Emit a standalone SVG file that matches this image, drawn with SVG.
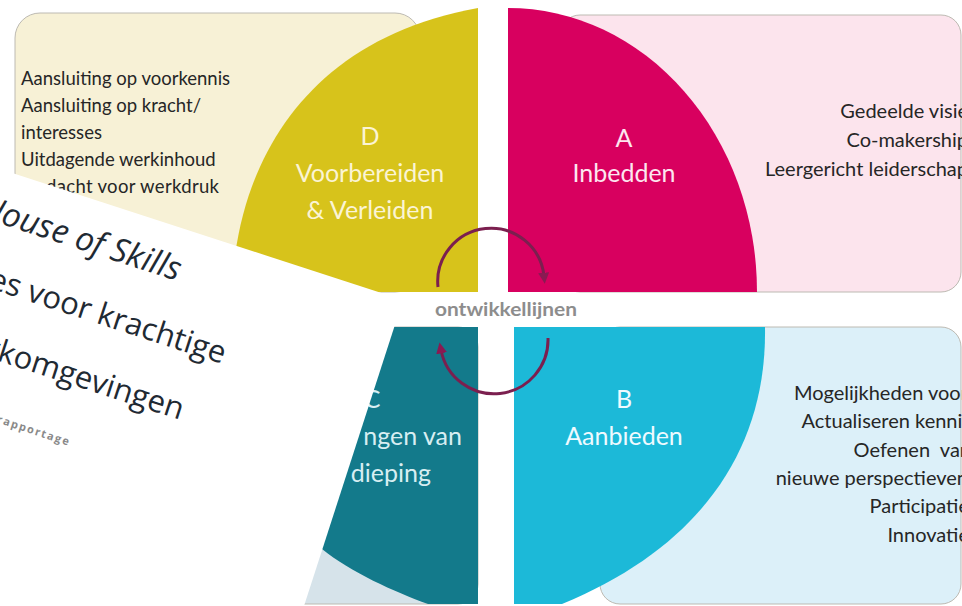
<svg xmlns="http://www.w3.org/2000/svg" width="962" height="606" viewBox="0 0 962 606">
<defs>
<style>
.list{font-family:Lato,"Noto Sans",sans-serif;font-size:18.5px;fill:#262626}
.rlist{font-family:Lato,"Noto Sans",sans-serif;font-size:20px;fill:#262626;text-anchor:end}
.lbl{font-family:Lato,"Noto Sans",sans-serif;font-size:25px;text-anchor:middle}
.bg{stroke:#bdbab2;stroke-width:1}
.arc{fill:none;stroke:#7b1f4f;stroke-width:3}
.ov{font-family:"Open Sans","Noto Sans",sans-serif;fill:#1f2a33;text-anchor:end}
</style>
<marker id="ah" viewBox="0 0 10 10" refX="3" refY="5" markerWidth="11" markerHeight="11" markerUnits="userSpaceOnUse" orient="auto"><path d="M0,0 L10,5 L0,10 Z" fill="#8a1a52"/></marker>
</defs>
<rect width="962" height="606" fill="#ffffff"/>

<g id="quadrant-d">
<rect class="bg" x="15" y="13" width="405" height="279" rx="25" fill="#f7f1d6"/>
<path d="M478,8 V292 H232 C236,170 300,40 478,8 Z" fill="#d7c31b"/>
<text class="list" x="21" y="85">Aansluiting op voorkennis</text>
<text class="list" x="21" y="112">Aansluiting op kracht/</text>
<text class="list" x="21" y="139">interesses</text>
<text class="list" x="21" y="166">Uitdagende werkinhoud</text>
<text class="list" x="46" y="193" textLength="173">dacht voor werkdruk</text>
<text class="lbl" x="370" y="145" fill="#fbf4d4">D</text>
<text class="lbl" x="370" y="182" fill="#fbf4d4">Voorbereiden</text>
<text class="lbl" x="370" y="219" fill="#fbf4d4">&amp; Verleiden</text>
</g>

<g id="quadrant-a">
<rect class="bg" x="560" y="15" width="401" height="277" rx="20" fill="#fce4ed"/>
<path d="M508,8 V292 H757 A249,284 0 0 0 508,8 Z" fill="#d8005f"/>
<text class="lbl" x="624" y="147" fill="#fde6ef">A</text>
<text class="lbl" x="624" y="182" fill="#fde6ef">Inbedden</text>
<text class="rlist" x="968" y="118">Gedeelde visie</text>
<text class="rlist" x="968" y="147">Co-makership</text>
<text class="rlist" x="968" y="176">Leergericht leiderschap</text>
</g>

<g id="quadrant-b">
<rect class="bg" x="600" y="327" width="361" height="277" rx="20" fill="#dcf0f9"/>
<path d="M514,327 H765 C767,445 705,545 562,604 H514 Z" fill="#1cb9d8"/>
<text class="lbl" x="624" y="408" fill="#effaff">B</text>
<text class="lbl" x="624" y="445" fill="#effaff">Aanbieden</text>
<text class="rlist" x="968" y="400">Mogelijkheden voor</text>
<text class="rlist" x="971" y="428">Actualiseren kennis</text>
<text class="rlist" x="971" y="457" style="white-space:pre">Oefenen  van</text>
<text class="rlist" x="968" y="485">nieuwe perspectieven</text>
<text class="rlist" x="969" y="513">Participatie</text>
<text class="rlist" x="969" y="542">Innovatie</text>
</g>

<g id="quadrant-c">
<rect class="bg" x="-30" y="327" width="508" height="277" rx="20" fill="#d6e3ea"/>
<path d="M478,327 V604 H428 C395,592 350,572 322,549 C280,515 235,440 225,327 Z" fill="#137a8b"/>
<text class="lbl" x="372" y="408" fill="#d8eef2">C</text>
<text class="lbl" x="462" y="445" fill="#d8eef2" style="text-anchor:end">ngen van</text>
<text class="lbl" x="431" y="482" fill="#d8eef2" style="text-anchor:end">dieping</text>
</g>

<g id="center-label">
<text x="506" y="316" font-family="Lato,'Noto Sans',sans-serif" font-weight="bold" font-size="19" fill="#8d8d8d" text-anchor="middle" textLength="142" lengthAdjust="spacingAndGlyphs">ontwikkellijnen</text>
</g>

<g id="connectors">
<path class="arc" d="M438,287 A53,53 0 0 1 544,276" marker-end="url(#ah)"/>
<path class="arc" d="M548,338 A54,54 0 0 1 441,350" marker-end="url(#ah)"/>
</g>

<g id="overlay-sheet">
<polygon points="0,169 403,300 304,606 0,606" fill="#ffffff"/>
<text class="ov" font-style="italic" font-size="33" x="177" y="281" transform="rotate(18 177 281)">House of Skills</text>
<text class="ov" font-size="31" x="222" y="364" transform="rotate(18 222 364)">es voor krachtige</text>
<text class="ov" font-size="31" x="180" y="420" transform="rotate(18 180 420)">rkomgevingen</text>
<text class="ov" font-size="11" font-weight="bold" letter-spacing="1.5" x="69" y="446" transform="rotate(18 69 446)" style="fill:#8a8a8a">rapportage</text>
</g>
</svg>
